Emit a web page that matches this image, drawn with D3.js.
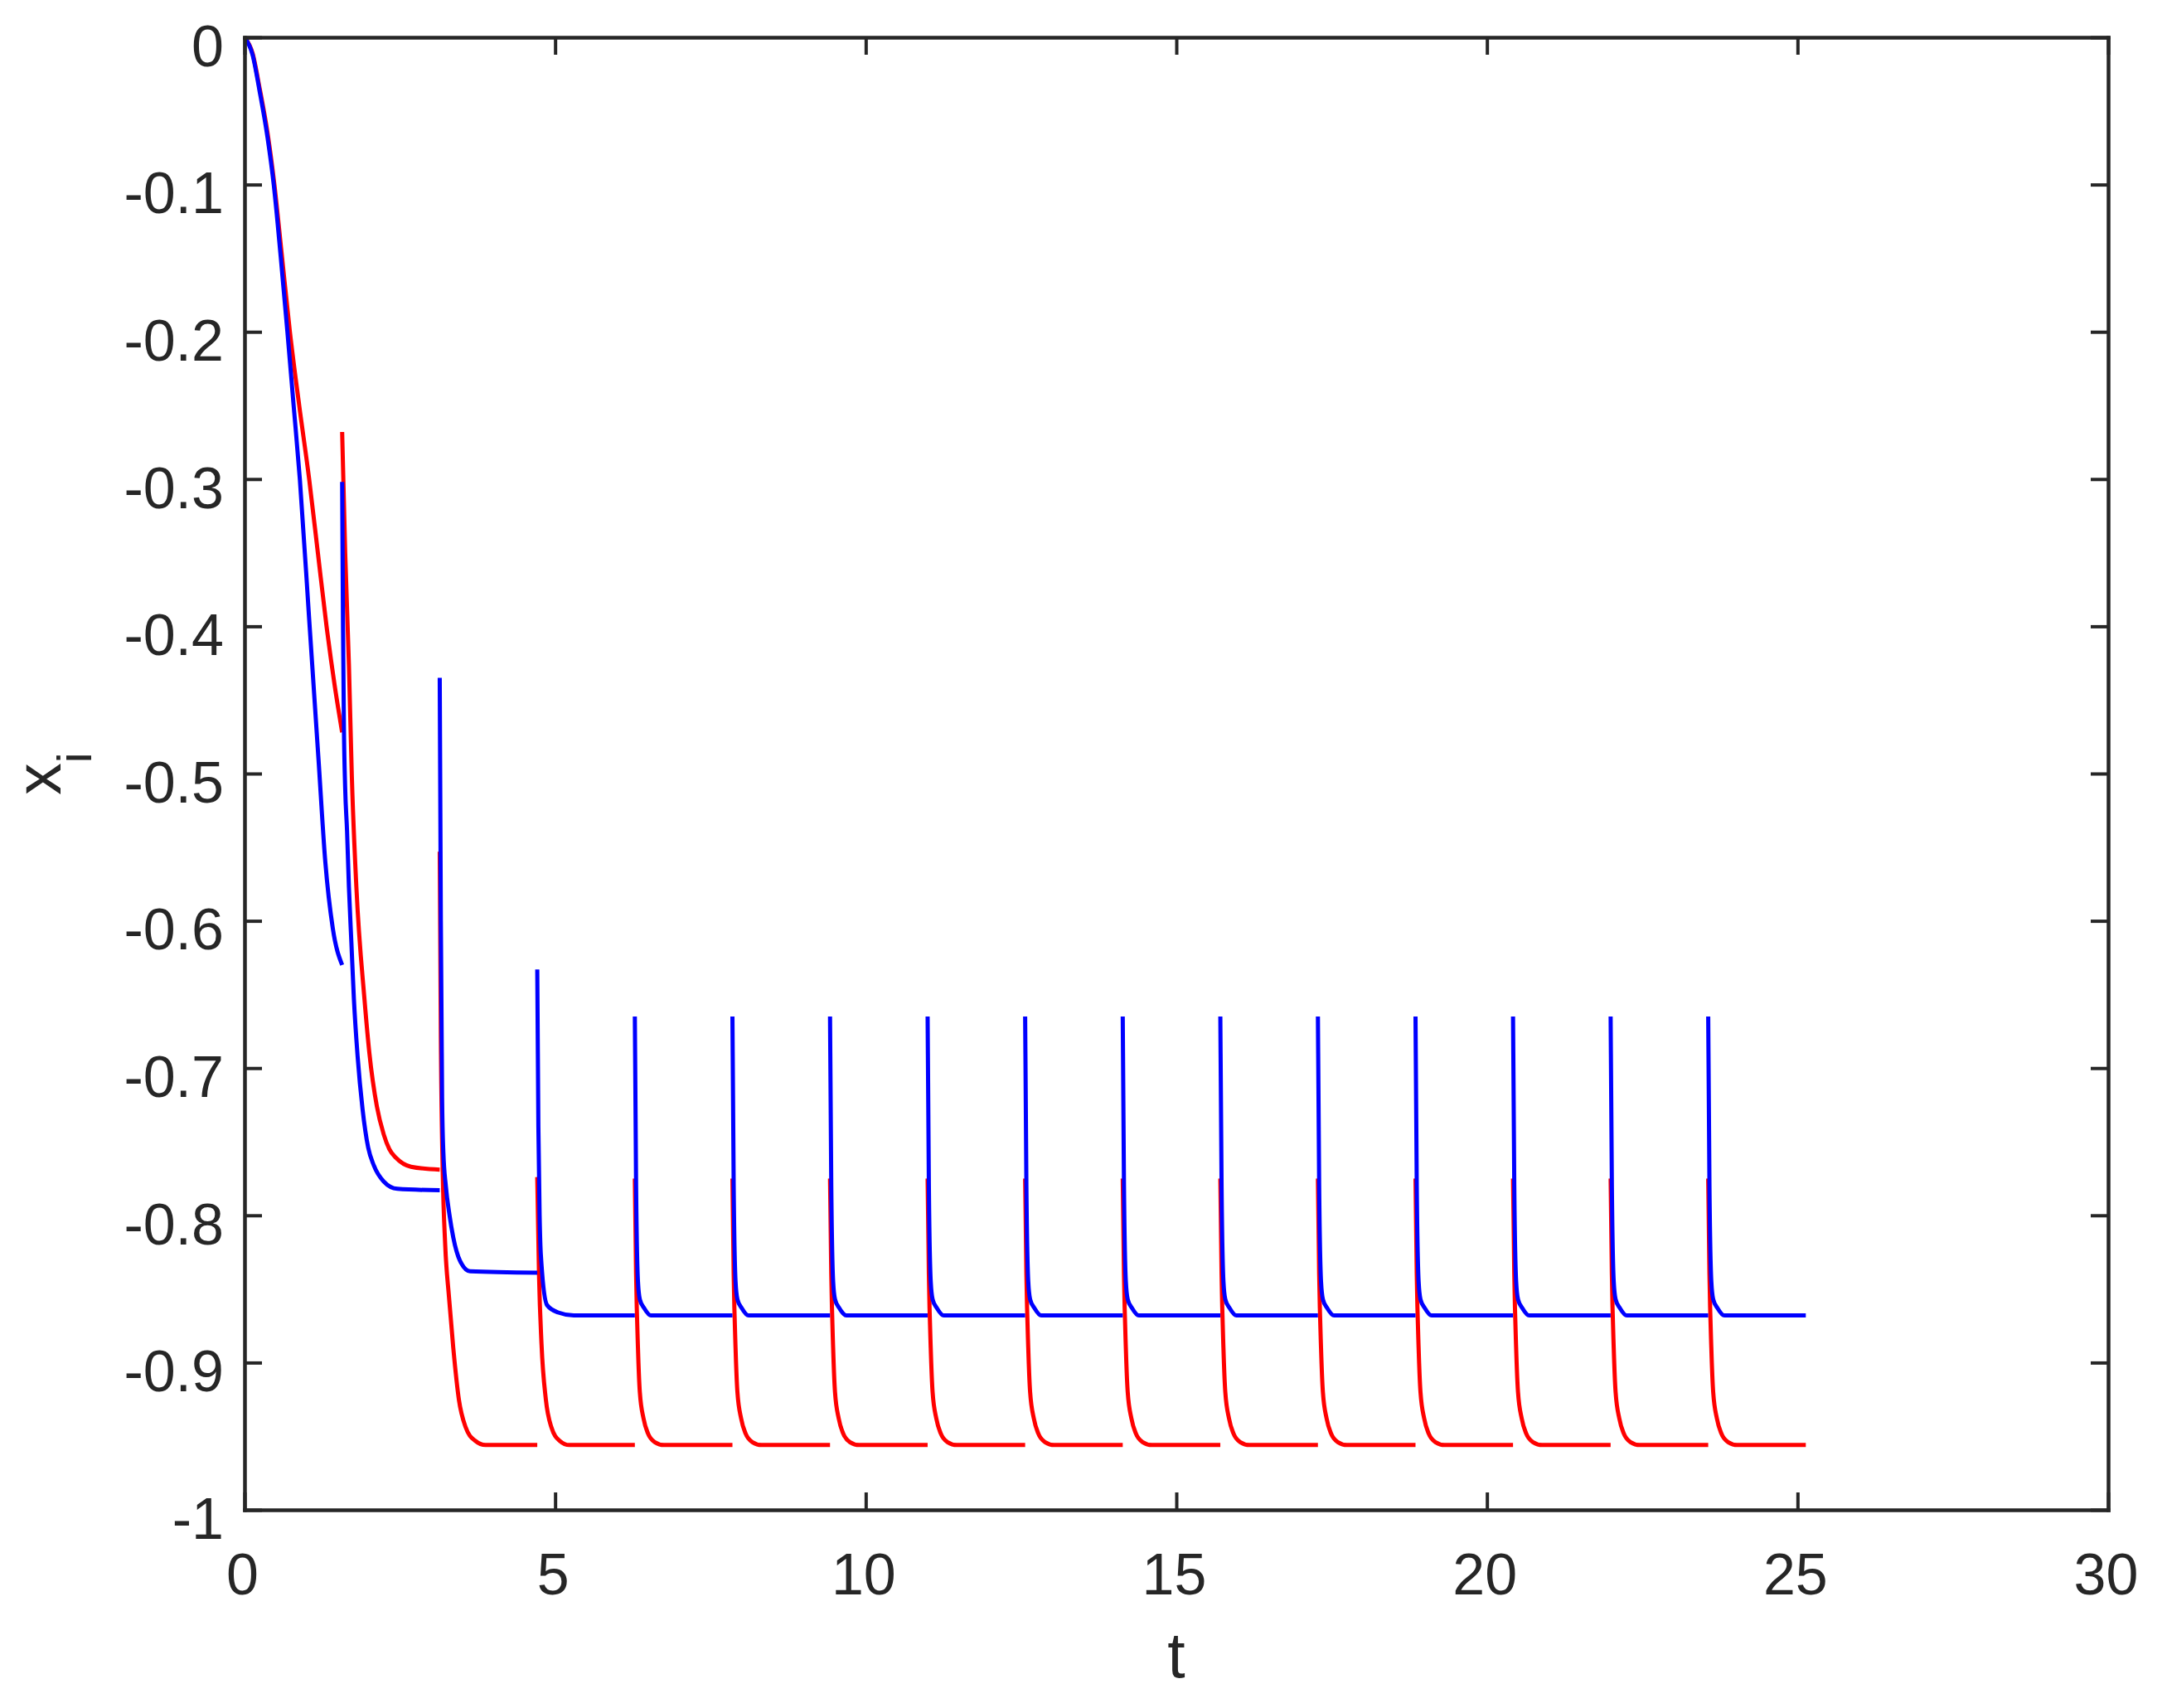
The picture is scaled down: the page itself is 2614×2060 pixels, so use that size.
<!DOCTYPE html>
<html>
<head>
<meta charset="utf-8">
<script src="https://cdn.jsdelivr.net/npm/d3@7"></script>
<style>
  html, body { margin: 0; padding: 0; background: #ffffff; }
  svg { display: block; }
</style>
</head>
<body>
<svg id="chart" width="2614" height="2060"></svg>
<script>
// ---------------- data ----------------
const xTicks = [0, 5, 10, 15, 20, 25, 30];
const yTicks = [0, -0.1, -0.2, -0.3, -0.4, -0.5, -0.6, -0.7, -0.8, -0.9, -1];
const xLabel = "t";
const yLabelMain = "x";
const yLabelSub = "i";

// blue trajectory, one array per segment between switching instants
const blueTimes = [
  [0, 0.13, 0.24, 0.37, 0.47, 0.58, 0.69, 0.79, 0.89, 1.04, 1.19, 1.30, 1.42, 1.571],
  [1.571, 1.585, 1.60, 1.62, 1.65, 1.68, 1.72, 1.76, 1.82, 1.90, 1.99, 2.08, 2.24, 2.46, 3.142],
  [3.142, 3.16, 3.18, 3.20, 3.24, 3.30, 3.36, 3.47, 3.63, 4.712],
  [4.712, 4.73, 4.75, 4.77, 4.87, 5.05, 5.30, 6.283],
  [6.283, 6.303, 6.333, 6.363, 6.433, 6.543, 7.854],
  [7.854, 7.874, 7.904, 7.934, 8.004, 8.114, 9.425],
  [9.425, 9.445, 9.475, 9.505, 9.575, 9.685, 10.996],
  [10.996, 11.016, 11.046, 11.076, 11.146, 11.256, 12.566],
  [12.566, 12.586, 12.616, 12.646, 12.716, 12.826, 14.137],
  [14.137, 14.157, 14.187, 14.217, 14.287, 14.397, 15.708],
  [15.708, 15.728, 15.758, 15.788, 15.858, 15.968, 17.279],
  [17.279, 17.299, 17.329, 17.359, 17.429, 17.539, 18.850],
  [18.850, 18.870, 18.900, 18.930, 19.000, 19.110, 20.420],
  [20.420, 20.440, 20.470, 20.500, 20.570, 20.680, 21.991],
  [21.991, 22.011, 22.041, 22.071, 22.141, 22.251, 23.562],
  [23.562, 23.582, 23.612, 23.642, 23.712, 23.822, 25.133]
];
const blueValues = [
  [0, -0.012, -0.036, -0.068, -0.1, -0.148, -0.2, -0.25, -0.3, -0.395, -0.49, -0.56, -0.605, -0.63],
  [-0.302, -0.40, -0.47, -0.51, -0.539, -0.577, -0.615, -0.653, -0.692, -0.728, -0.754, -0.766, -0.777, -0.782, -0.783],
  [-0.435, -0.60, -0.72, -0.757, -0.78, -0.80, -0.815, -0.831, -0.838, -0.839],
  [-0.633, -0.74, -0.80, -0.827, -0.861, -0.866, -0.868, -0.868],
  [-0.665, -0.78, -0.845, -0.857, -0.863, -0.868, -0.868],
  [-0.665, -0.78, -0.845, -0.857, -0.863, -0.868, -0.868],
  [-0.665, -0.78, -0.845, -0.857, -0.863, -0.868, -0.868],
  [-0.665, -0.78, -0.845, -0.857, -0.863, -0.868, -0.868],
  [-0.665, -0.78, -0.845, -0.857, -0.863, -0.868, -0.868],
  [-0.665, -0.78, -0.845, -0.857, -0.863, -0.868, -0.868],
  [-0.665, -0.78, -0.845, -0.857, -0.863, -0.868, -0.868],
  [-0.665, -0.78, -0.845, -0.857, -0.863, -0.868, -0.868],
  [-0.665, -0.78, -0.845, -0.857, -0.863, -0.868, -0.868],
  [-0.665, -0.78, -0.845, -0.857, -0.863, -0.868, -0.868],
  [-0.665, -0.78, -0.845, -0.857, -0.863, -0.868, -0.868],
  [-0.665, -0.78, -0.845, -0.857, -0.863, -0.868, -0.868]
];

// red trajectory
const redTimes = [
  [0, 0.13, 0.24, 0.37, 0.48, 0.60, 0.73, 0.88, 1.04, 1.18, 1.32, 1.45, 1.571],
  [1.571, 1.62, 1.68, 1.727, 1.80, 1.93, 2.01, 2.13, 2.24, 2.33, 2.44, 2.68, 3.142],
  [3.142, 3.16, 3.19, 3.23, 3.29, 3.36, 3.45, 3.56, 3.71, 3.88, 4.712],
  [4.712, 4.74, 4.78, 4.85, 4.94, 5.07, 5.23, 6.283],
  [6.283, 6.303, 6.333, 6.363, 6.423, 6.493, 6.603, 6.753, 7.854],
  [7.854, 7.874, 7.904, 7.934, 7.994, 8.064, 8.174, 8.324, 9.425],
  [9.425, 9.445, 9.475, 9.505, 9.565, 9.635, 9.745, 9.895, 10.996],
  [10.996, 11.016, 11.046, 11.076, 11.136, 11.206, 11.316, 11.466, 12.566],
  [12.566, 12.586, 12.616, 12.646, 12.706, 12.776, 12.886, 13.036, 14.137],
  [14.137, 14.157, 14.187, 14.217, 14.277, 14.347, 14.457, 14.607, 15.708],
  [15.708, 15.728, 15.758, 15.788, 15.848, 15.918, 16.028, 16.178, 17.279],
  [17.279, 17.299, 17.329, 17.359, 17.419, 17.489, 17.599, 17.749, 18.850],
  [18.850, 18.870, 18.900, 18.930, 18.990, 19.060, 19.170, 19.320, 20.420],
  [20.420, 20.440, 20.470, 20.500, 20.560, 20.630, 20.740, 20.890, 21.991],
  [21.991, 22.011, 22.041, 22.071, 22.131, 22.201, 22.311, 22.461, 23.562],
  [23.562, 23.582, 23.612, 23.642, 23.702, 23.772, 23.882, 24.032, 25.133]
];
const redValues = [
  [0, -0.011, -0.034, -0.065, -0.1, -0.148, -0.2, -0.25, -0.3, -0.35, -0.4, -0.44, -0.472],
  [-0.268, -0.35, -0.426, -0.502, -0.577, -0.653, -0.69, -0.726, -0.745, -0.755, -0.761, -0.767, -0.769],
  [-0.553, -0.68, -0.77, -0.82, -0.855, -0.89, -0.925, -0.944, -0.953, -0.956, -0.956],
  [-0.774, -0.84, -0.887, -0.925, -0.944, -0.953, -0.956, -0.956],
  [-0.775, -0.84, -0.89, -0.92, -0.938, -0.948, -0.954, -0.956, -0.956],
  [-0.775, -0.84, -0.89, -0.92, -0.938, -0.948, -0.954, -0.956, -0.956],
  [-0.775, -0.84, -0.89, -0.92, -0.938, -0.948, -0.954, -0.956, -0.956],
  [-0.775, -0.84, -0.89, -0.92, -0.938, -0.948, -0.954, -0.956, -0.956],
  [-0.775, -0.84, -0.89, -0.92, -0.938, -0.948, -0.954, -0.956, -0.956],
  [-0.775, -0.84, -0.89, -0.92, -0.938, -0.948, -0.954, -0.956, -0.956],
  [-0.775, -0.84, -0.89, -0.92, -0.938, -0.948, -0.954, -0.956, -0.956],
  [-0.775, -0.84, -0.89, -0.92, -0.938, -0.948, -0.954, -0.956, -0.956],
  [-0.775, -0.84, -0.89, -0.92, -0.938, -0.948, -0.954, -0.956, -0.956],
  [-0.775, -0.84, -0.89, -0.92, -0.938, -0.948, -0.954, -0.956, -0.956],
  [-0.775, -0.84, -0.89, -0.92, -0.938, -0.948, -0.954, -0.956, -0.956],
  [-0.775, -0.84, -0.89, -0.92, -0.938, -0.948, -0.954, -0.956, -0.956]
];

// ---------------- drawing ----------------
const margin = { left: 295, top: 45, right: 2614 - 2543, bottom: 2060 - 1821 };
const W = 2614 - margin.left - margin.right;
const H = 2060 - margin.top - margin.bottom;
const axisColor = "#262626";
const fontFamily = "'Liberation Sans', Arial, Helvetica, sans-serif";

const svg = d3.select("#chart");
svg.append("rect").attr("width", 2614).attr("height", 2060).attr("fill", "#ffffff");

const g = svg.append("g").attr("transform", `translate(${margin.left},${margin.top})`);

const x = d3.scaleLinear().domain([0, 30]).range([0, W]);
const y = d3.scaleLinear().domain([-1, 0]).range([H, 0]);

const line = d3.line()
  .x(d => x(d[0]))
  .y(d => y(d[1]))
  .curve(d3.curveMonotoneX);

function segs(times, values) {
  return times.map((ts, i) => ts.map((t, j) => [t, values[i][j]]));
}

const series = [
  { name: "red", color: "#ff0000", data: segs(redTimes, redValues) },
  { name: "blue", color: "#0000ff", data: segs(blueTimes, blueValues) }
];

series.forEach(s => {
  g.append("g").attr("class", "series-" + s.name)
    .selectAll("path")
    .data(s.data)
    .join("path")
    .attr("d", line)
    .attr("fill", "none")
    .attr("stroke", s.color)
    .attr("stroke-width", 5)
    .attr("stroke-linejoin", "round");
});

const fmtY = d => (d === 0 ? "0" : d === -1 ? "-1" : d.toFixed(1));

function styleAxis(sel) {
  sel.select(".domain").attr("stroke", axisColor).attr("stroke-width", 4.5).attr("stroke-linecap", "square");
  sel.selectAll(".tick line").attr("stroke", axisColor).attr("stroke-width", 4);
  sel.selectAll(".tick text")
    .attr("fill", axisColor)
    .style("font-family", fontFamily)
    .style("font-size", "70px");
}

const gx = g.append("g").attr("transform", `translate(0,${H})`)
  .call(d3.axisBottom(x).tickValues(xTicks).tickFormat(d3.format("d"))
    .tickSizeInner(-21).tickSizeOuter(0).tickPadding(52));
styleAxis(gx);
gx.selectAll(".tick text").attr("dx", -3);

const gy = g.append("g")
  .call(d3.axisLeft(y).tickValues(yTicks).tickFormat(fmtY)
    .tickSizeInner(-21).tickSizeOuter(0).tickPadding(25));
styleAxis(gy);
gy.selectAll(".tick text").attr("dy", "0.49em");

const gt = g.append("g")
  .call(d3.axisTop(x).tickValues(xTicks).tickFormat("")
    .tickSizeInner(-21).tickSizeOuter(0));
styleAxis(gt);

const gr = g.append("g").attr("transform", `translate(${W},0)`)
  .call(d3.axisRight(y).tickValues(yTicks).tickFormat("")
    .tickSizeInner(-21).tickSizeOuter(0));
styleAxis(gr);

// axis labels
svg.append("text")
  .attr("x", margin.left + W / 2)
  .attr("y", 2023)
  .attr("text-anchor", "middle")
  .attr("fill", axisColor)
  .style("font-family", fontFamily)
  .style("font-size", "77px")
  .text(xLabel);

const yl = svg.append("text")
  .attr("transform", `translate(73,${margin.top + H / 2}) rotate(-90)`)
  .attr("text-anchor", "middle")
  .attr("fill", axisColor)
  .style("font-family", fontFamily)
  .style("font-size", "77px");
yl.append("tspan").text(yLabelMain);
yl.append("tspan").attr("dy", 37).style("font-size", "58px").text(yLabelSub);
</script>
</body>
</html>
